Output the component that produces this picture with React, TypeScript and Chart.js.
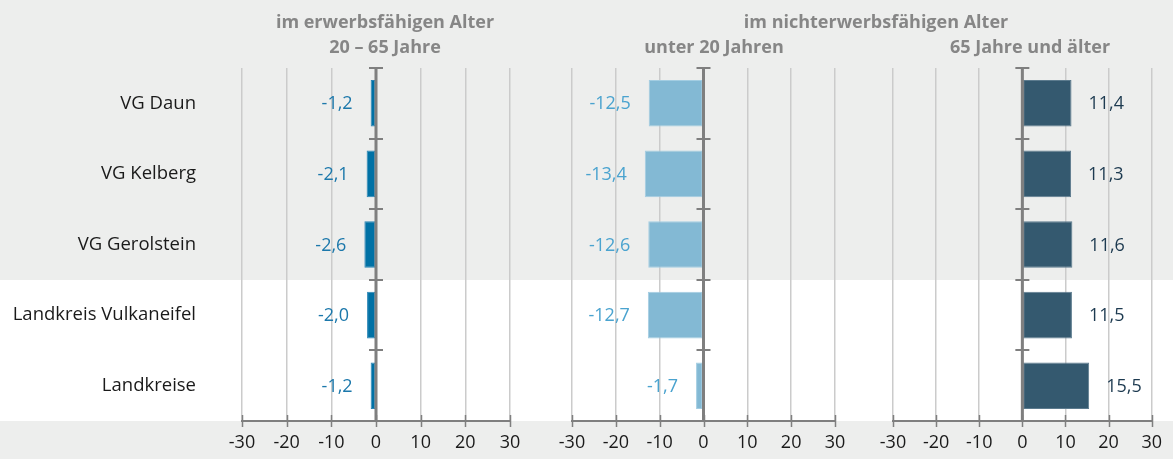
import React, { useEffect, useRef } from "react";
import { Chart, registerables } from "chart.js";

Chart.register(...registerables);

const categories = ["VG Daun", "VG Kelberg", "VG Gerolstein", "Landkreis Vulkaneifel", "Landkreise"];
const workingAge = [-1.2, -2.1, -2.6, -2.0, -1.2];
const under20 = [-12.5, -13.4, -12.6, -12.7, -1.7];
const over65 = [11.4, 11.3, 11.6, 11.5, 15.5];
const xTicks = [-30, -20, -10, 0, 10, 20, 30];
const highlightFrom = 3; // index of first row on white background

const titleWorking = ["im erwerbsfähigen Alter", "20 – 65 Jahre"];
const titleNonWorking = "im nichterwerbsfähigen Alter";
const titleUnder20 = "unter 20 Jahren";
const titleOver65 = "65 Jahre und älter";

const FONT = "'Open Sans', 'Noto Sans', sans-serif";
const PAGE_BG = "#edeeed";
const AXIS = "#7f7f7f";
const GRID = "#cbcbcb";
const TEXT = "#1a1a1a";
const HEAD = "#868686";

const fmt = (v: number) => v.toFixed(1).replace(".", ",");

type PanelProps = {
  values: number[];
  color: string;
  border: string;
  labelColor: string;
  showCategories: boolean;
  left: number;
  width: number;
  padLeft: number;
  padRight: number;
};

function Panel(p: PanelProps) {
  const ref = useRef<HTMLCanvasElement | null>(null);
  useEffect(() => {
    if (!ref.current) return;
    const decor = {
      id: "decor",
      beforeDraw(chart: any) {
        const { ctx, chartArea, scales } = chart;
        const y = scales.y;
        ctx.save();
        ctx.fillStyle = PAGE_BG;
        ctx.fillRect(0, 0, chart.width, chart.height);
        const bandTop = Math.round(y.getPixelForValue(highlightFrom - 0.5));
        ctx.fillStyle = "#ffffff";
        ctx.fillRect(0, bandTop, chart.width, chartArea.bottom - bandTop);
        ctx.restore();
      },
      afterDatasetsDraw(chart: any) {
        const { ctx, chartArea, scales } = chart;
        const x = scales.x;
        const y = scales.y;
        const x0 = x.getPixelForValue(0);
        ctx.save();
        ctx.strokeStyle = AXIS;
        ctx.lineWidth = 3;
        ctx.beginPath();
        ctx.moveTo(x0, chartArea.top);
        ctx.lineTo(x0, chartArea.bottom);
        ctx.stroke();
        ctx.lineWidth = 2;
        for (let i = 0; i < categories.length; i++) {
          const yy = Math.round(y.getPixelForValue(i - 0.5));
          ctx.beginPath();
          ctx.moveTo(x0 - 7, yy);
          ctx.lineTo(x0 + 7, yy);
          ctx.stroke();
        }
        // x tick marks
        ctx.lineWidth = 1.5;
        xTicks.forEach((t) => {
          const xx = Math.round(x.getPixelForValue(t)) + 0.5;
          ctx.beginPath();
          ctx.moveTo(xx, chartArea.bottom - 6);
          ctx.lineTo(xx, chartArea.bottom + 6);
          ctx.stroke();
        });
        // value labels
        const meta = chart.getDatasetMeta(0);
        ctx.fillStyle = p.labelColor;
        ctx.font = `18px ${FONT}`;
        ctx.textBaseline = "middle";
        meta.data.forEach((el: any, i: number) => {
          const v = p.values[i];
          if (v < 0) {
            ctx.textAlign = "right";
            ctx.fillText(fmt(v), el.x - 18, el.y + 1);
          } else {
            ctx.textAlign = "left";
            ctx.fillText(fmt(v), el.x + 17, el.y + 1);
          }
        });
        ctx.restore();
      },
    };
    const chart = new Chart(ref.current, {
      type: "bar",
      data: {
        labels: categories,
        datasets: [
          {
            data: p.values,
            backgroundColor: p.color,
            borderColor: p.border,
            borderWidth: 1,
            borderSkipped: false,
            categoryPercentage: 1,
            barPercentage: 0.66,
          },
        ],
      },
      options: {
        indexAxis: "y",
        animation: false,
        responsive: false,
        devicePixelRatio: 1,
        layout: { padding: { top: 68, bottom: 0, left: p.padLeft, right: p.padRight } },
        plugins: { legend: { display: false }, tooltip: { enabled: false }, title: { display: false } },
        scales: {
          x: {
            type: "linear",
            min: -30,
            max: 30,
            afterBuildTicks: (s: any) => {
              s.ticks = xTicks.map((v) => ({ value: v }));
            },
            afterFit: (s: any) => {
              s.height = 38;
            },
            grid: { color: GRID, lineWidth: 1.5, drawTicks: false },
            border: { display: true, color: AXIS, width: 2 },
            ticks: {
              padding: 11,
              color: TEXT,
              font: { size: 18, family: FONT },
              maxRotation: 0,
              callback: (v: any) => String(v),
            },
          },
          y: {
            type: "category",
            display: p.showCategories,
            offset: true,
            afterFit: (s: any) => {
              if (p.showCategories) {
                s.width = 242;
                s.paddingTop = 0;
                s.paddingBottom = 0;
              }
            },
            grid: { display: false, drawTicks: true, tickLength: 46 },
            border: { display: false },
            ticks: {
              padding: 0,
              color: TEXT,
              font: { size: 18.5, family: FONT },
            },
          },
        },
      },
      plugins: [decor],
    } as any);
    return () => chart.destroy();
  }, []);
  return (
    <canvas
      ref={ref}
      width={p.width}
      height={459}
      style={{ position: "absolute", left: p.left, top: 0, width: p.width, height: 459, display: "block" }}
    />
  );
}

const headStyle = (cx: number, cy: number): React.CSSProperties => ({
  position: "absolute",
  left: cx - 200,
  width: 400,
  top: cy - 12,
  height: 24,
  lineHeight: "24px",
  textAlign: "center",
  fontFamily: FONT,
  fontWeight: 700,
  fontSize: 18,
  color: HEAD,
  whiteSpace: "nowrap",
});

export default function App() {
  return (
    <div style={{ position: "absolute", left: 0, top: 0, width: 1173, height: 459, background: PAGE_BG, overflow: "hidden" }}>
      <Panel values={workingAge} color="#0071a5" border="#2a85b5" labelColor="#1c78ab" showCategories={true} left={0} width={540} padLeft={0} padRight={30} />
      <Panel values={under20} color="#83b9d4" border="#a3cde2" labelColor="#4aa3cf" showCategories={false} left={540} width={325} padLeft={32} padRight={30} />
      <Panel values={over65} color="#34596f" border="#5c7b8e" labelColor="#1d3a50" showCategories={false} left={865} width={308} padLeft={28} padRight={21} />
      <div style={headStyle(385, 21)}>{titleWorking[0]}</div>
      <div style={headStyle(385, 46)}>{titleWorking[1]}</div>
      <div style={headStyle(876, 21)}>{titleNonWorking}</div>
      <div style={headStyle(714, 46)}>{titleUnder20}</div>
      <div style={headStyle(1030, 46)}>{titleOver65}</div>
    </div>
  );
}
